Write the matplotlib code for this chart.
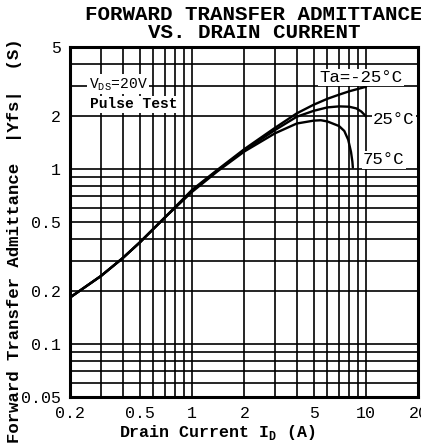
import matplotlib
matplotlib.use("Agg")
import matplotlib.pyplot as plt

# ---------------------------------------------------------------------------
# Data: drain current (A) vs |Yfs| (S)
# ---------------------------------------------------------------------------
ID_M25 = [0.2, 0.3, 0.4, 0.5, 0.7, 1.0, 1.4, 2.0, 3.0, 4.0, 5.0, 6.0, 7.0, 8.0, 9.0, 10.0]
YFS_M25 = [0.185, 0.245, 0.31, 0.38, 0.53, 0.76, 0.99, 1.30, 1.72, 2.08, 2.33, 2.52, 2.66, 2.78, 2.87, 2.95]

ID_25 = [0.2, 0.3, 0.4, 0.5, 0.7, 1.0, 1.4, 2.0, 3.0, 4.0, 5.0, 6.0, 7.0, 8.0, 8.8, 9.4, 10.0]
YFS_25 = [0.185, 0.245, 0.31, 0.38, 0.53, 0.75, 0.98, 1.28, 1.67, 1.99, 2.15, 2.25, 2.28, 2.27, 2.22, 2.13, 2.0]

ID_75 = [0.2, 0.3, 0.4, 0.5, 0.7, 1.0, 1.4, 2.0, 3.0, 4.0, 5.0, 5.5, 6.0, 7.0, 7.5, 7.9, 8.2, 8.35, 8.4]
YFS_75 = [0.185, 0.245, 0.31, 0.38, 0.53, 0.74, 0.97, 1.26, 1.60, 1.82, 1.89, 1.90, 1.87, 1.76, 1.65, 1.47, 1.25, 1.10, 1.02]

X_TICKS = [0.2, 0.5, 1, 2, 5, 10, 20]
X_TICK_LABELS = ["0.2", "0.5", "1", "2", "5", "10", "20"]
Y_TICKS = [0.05, 0.1, 0.2, 0.5, 1, 2, 5]
Y_TICK_LABELS = ["0.05", "0.1", "0.2", "0.5", "1", "2", "5"]

# graph-paper grid lines
X_GRID = [0.3, 0.4, 0.5, 0.6, 0.7, 0.8, 0.9, 1, 2, 3, 4, 5, 6, 7, 8, 9, 10]
Y_GRID = [0.06, 0.07, 0.08, 0.09, 0.1, 0.2, 0.3, 0.4, 0.5, 0.6, 0.7, 0.8, 0.9, 1, 2, 3, 4]

MONO = "Liberation Mono"
plt.rcParams["font.family"] = [MONO, "DejaVu Sans"]
plt.rcParams["mathtext.fontset"] = "custom"
plt.rcParams["mathtext.rm"] = MONO
plt.rcParams["mathtext.bf"] = MONO + ":bold"

W, H = 421, 443
fig = plt.figure(figsize=(W / 100, H / 100), dpi=100)
ax = fig.add_axes([70.4 / W, 1 - 396.7 / H, 348 / W, 350 / H])
ax.set_xscale("log")
ax.set_yscale("log")
ax.set_xlim(0.2, 20)
ax.set_ylim(0.05, 5)

for gx in X_GRID:
    ax.axvline(gx, color="black", lw=1.2, zorder=1)
for gy in Y_GRID:
    ax.axhline(gy, color="black", lw=1.2, zorder=1)

for xs, ys in [(ID_M25, YFS_M25), (ID_25, YFS_25), (ID_75, YFS_75)]:
    ax.plot(xs, ys, color="black", lw=1.7, zorder=3, solid_capstyle="round")

box = dict(facecolor="white", edgecolor="none", pad=1.0)
ax.text(5.4, 3.33, "Ta=-25°C", fontsize=12.5, va="center", ha="left", bbox=box, zorder=4)
ax.text(10.96, 1.91, "25°C", fontsize=12.5, va="center", ha="left", bbox=box, zorder=4)
ax.text(9.6, 1.13, "75°C", fontsize=12.5, va="center", ha="left", bbox=box, zorder=4)
ax.text(0.255, 3.05, r"V$_\mathrm{DS}$=20V", fontsize=10.5, va="center", ha="left", bbox=box, zorder=4)
ax.text(0.26, 2.35, "Pulse Test", fontsize=10.5, fontweight="bold", va="center", ha="left", bbox=box, zorder=4)

ax.set_xticks(X_TICKS)
ax.set_xticklabels(X_TICK_LABELS)
ax.set_yticks(Y_TICKS)
ax.set_yticklabels(Y_TICK_LABELS)
ax.minorticks_off()
ax.tick_params(length=0, labelsize=12)
ax.tick_params(axis="x", pad=7)
ax.tick_params(axis="y", pad=7)
for sp in ax.spines.values():
    sp.set_linewidth(2.2)

fig.text(254 / W, 1 - 14 / H, "FORWARD TRANSFER ADMITTANCE", ha="center", va="center",
         fontsize=15, fontweight="bold")
fig.text(254 / W, 1 - 33 / H, "VS. DRAIN CURRENT", ha="center", va="center",
         fontsize=15, fontweight="bold")
fig.text(217 / W, 1 - 432 / H, r"Drain Current I$_\mathbf{D}$ (A)", ha="center", va="center",
         fontsize=12, fontweight="bold")
fig.text(15 / W, 1 - 241 / H, "Forward Transfer Admittance  |Yfs|  (S)", ha="center", va="center",
         rotation=90, fontsize=12.5, fontweight="bold")

fig.savefig("out.png", dpi=100, facecolor="white")
